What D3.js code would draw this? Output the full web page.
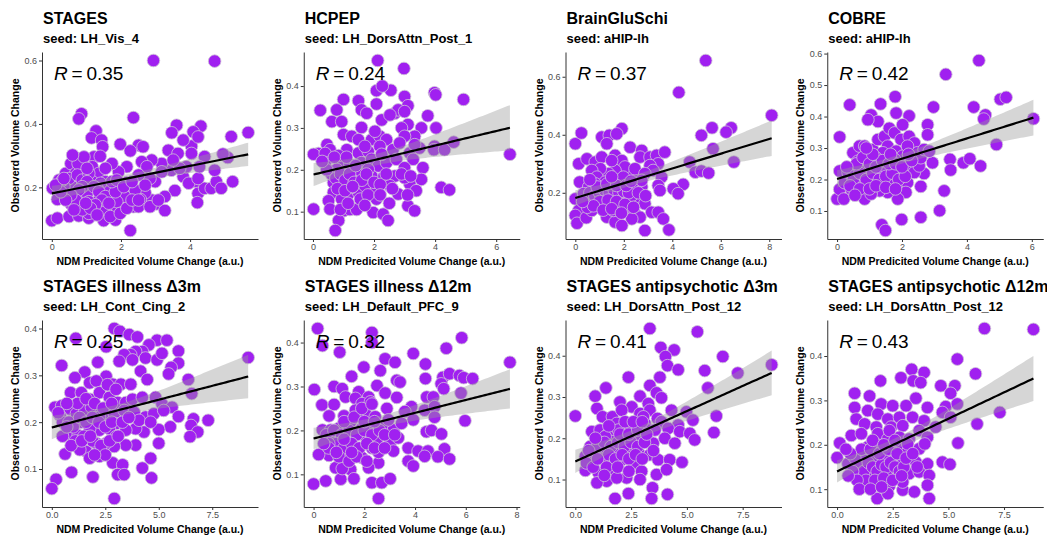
<!DOCTYPE html>
<html>
<head>
<meta charset="utf-8">
<script src="https://cdn.jsdelivr.net/npm/d3@7"></script>
<style>
  body { margin: 0; background: #fff; }
  svg { display: block; }
  text { font-family: "Liberation Sans", Arial, Helvetica, sans-serif; }
</style>
</head>
<body>
<script>
// titels, seeds en R waarden per paneel
const titles = ["STAGES", "HCPEP", "BrainGluSchi", "COBRE",
  "STAGES illness Δ3m", "STAGES illness Δ12m", "STAGES antipsychotic Δ3m", "STAGES antipsychotic Δ12m"];
const seeds = ["LH_Vis_4", "LH_DorsAttn_Post_1", "aHIP-lh", "aHIP-lh",
  "LH_Cont_Cing_2", "LH_Default_PFC_9", "LH_DorsAttn_Post_12", "LH_DorsAttn_Post_12"];
const rValues = ["0.35", "0.24", "0.37", "0.42", "0.25", "0.32", "0.41", "0.43"];

const xTicks = [[0, 2, 4], [0, 2, 4, 6], [0, 2, 4, 6, 8], [0, 2, 4, 6],
  [0, 2.5, 5, 7.5], [0, 2, 4, 6, 8], [0, 2.5, 5, 7.5], [0, 2.5, 5, 7.5]];
const yTicks = [[0.2, 0.4, 0.6], [0.1, 0.2, 0.3, 0.4], [0.2, 0.4, 0.6], [0.1, 0.2, 0.3, 0.4, 0.5, 0.6],
  [0.1, 0.2, 0.3, 0.4], [0.1, 0.2, 0.3, 0.4], [0.1, 0.2, 0.3, 0.4], [0.1, 0.2, 0.3, 0.4]];

// punten: [voorspeld, geobserveerd]
const stagesPts = [[2.94,.600],[4.71,.598],[0.86,.432],[0.78,.416],[2.36,.420],[3.61,.396],[4.31,.393],[4.09,.375],[3.47,.372],[5.19,.360],[5.68,.373],[1.28,.378],[1.15,.356],[1.44,.349],[1.47,.328],[1.98,.336],[2.51,.333],[2.64,.328],[2.27,.315],[3.37,.317],[3.65,.307],[4.04,.330],[3.80,.349],[4.23,.359],[4.42,.297],[5.09,.294],[4.95,.305],[0.21,.223],[0.02,.197],[0.16,.162],[0.55,.148],[0.00,.095],[0.16,.103],[0.50,.108],[0.78,.110],[1.07,.103],[1.50,.095],[1.84,.097],[2.27,.064],[2.36,.139],[3.03,.148],[3.27,.127],[2.89,.160],[2.70,.183],[2.56,.162],[3.56,.190],[3.80,.234],[4.18,.218],[3.96,.213],[4.23,.181],[4.21,.152],[4.42,.197],[4.61,.197],[4.76,.218],[4.90,.197],[5.23,.218],[4.23,.228],[4.71,.254],[4.27,.265],[3.89,.265],[3.46,.254],[3.18,.275],[2.89,.286],[2.60,.281],[2.75,.265],[2.99,.218],[2.84,.228],[2.51,.239],[2.17,.265],[2.17,.215],[1.93,.249],[1.74,.275],[1.79,.202],[1.93,.183],[1.65,.165],[1.45,.150],[1.74,.134],[1.26,.129],[1.07,.118],[1.31,.155],[0.83,.160],[0.88,.181],[0.69,.186],[0.55,.207],[0.40,.244],[0.55,.275],[0.78,.291],[0.93,.265],[1.22,.296],[1.40,.298],[1.17,.265],[1.36,.244],[1.17,.218],[1.02,.202],[1.55,.218],[1.60,.192],[0.69,.244],[0.50,.228],[0.35,.202],[0.31,.223],[1.02,.181],[2.12,.171],[2.41,.192],[1.88,.155],[1.55,.129],[2.51,.139],[3.27,.171],[3.70,.260],[3.18,.249],[3.51,.286],[4.04,.307],[0.76,.275],[0.93,.296],[0.60,.302],[1.41,.213],[1.31,.197],[1.07,.155],[0.88,.129],
  [0.74,.239],[0.88,.223],[1.07,.244],[1.02,.218],[0.88,.202],[0.78,.192],[1.22,.202],[1.36,.186],[1.55,.171],[1.45,.160],[1.26,.145],[1.12,.134],[1.65,.150],[1.84,.186],[1.74,.218],[1.88,.223],[0.69,.160],[0.55,.176],[0.40,.160],[0.98,.150],[0.64,.129],[1.31,.113],[1.69,.108],[1.98,.118],[2.17,.134],[2.32,.160],[2.08,.202],[2.32,.218],[2.70,.207],[2.51,.160],[2.84,.139],[3.08,.160],[0.26,.186],[0.11,.207],[0.35,.228],[1.02,.260],[1.55,.260]];
const hcpepPts = [[2.12,.461],[2.98,.442],[2.55,.390],[2.08,.389],[2.27,.400],[3.98,.384],[4.02,.379],[4.93,.368],[3.00,.375],[1.00,.368],[1.49,.365],[2.08,.357],[0.24,.342],[0.78,.343],[1.59,.343],[1.76,.335],[2.68,.335],[3.11,.353],[2.79,.343],[3.00,.339],[0.62,.315],[0.94,.315],[1.59,.301],[2.25,.319],[2.52,.331],[3.11,.308],[3.76,.329],[4.03,.300],[3.55,.300],[2.90,.300],[3.33,.280],[3.00,.280],[1.00,.284],[1.27,.280],[1.49,.272],[1.92,.272],[2.19,.280],[2.41,.272],[2.03,.292],[0.46,.260],[0.56,.248],[0.18,.239],[0.02,.237],[0.40,.239],[1.11,.248],[1.49,.240],[1.81,.244],[2.19,.256],[2.62,.248],[2.84,.264],[3.17,.240],[3.28,.225],[3.49,.252],[3.98,.256],[3.96,.248],[4.31,.248],[4.61,.266],[6.45,.237],[0.40,.217],[0.94,.217],[0.78,.201],[1.21,.213],[1.59,.217],[1.92,.225],[2.14,.209],[2.41,.217],[2.73,.225],[3.00,.205],[3.60,.205],[3.55,.177],[3.17,.166],[3.00,.181],[2.68,.185],[2.30,.181],[1.92,.185],[1.49,.189],[1.27,.177],[0.67,.169],[0.94,.166],[0.67,.146],[1.16,.142],[1.49,.146],[1.70,.162],[2.08,.154],[2.08,.130],[2.52,.162],[2.79,.142],[3.38,.150],[4.20,.158],[4.47,.152],[0.51,.126],[0.56,.106],[0.02,.106],[1.00,.102],[1.21,.105],[1.43,.105],[1.97,.098],[2.30,.094],[2.46,.079],[3.11,.114],[3.33,.102],[0.84,.079],[0.73,.055],[0.94,.130],[1.27,.158],[1.81,.201],[2.25,.237],[3.33,.260],[0.84,.234],[1.70,.256],
  [0.60,.190],[0.75,.180],[0.90,.190],[1.05,.175],[1.20,.190],[1.35,.170],[1.60,.175],[1.75,.190],[2.00,.170],[2.20,.165],[2.40,.190],[0.80,.155],[1.05,.150],[1.30,.160],[1.55,.130],[1.80,.140],[2.20,.140],[2.60,.155],[0.45,.200],[0.30,.220],[0.70,.230],[1.10,.230],[1.40,.210],[2.90,.190],[3.20,.185],[1.70,.115],[0.90,.105],[1.15,.120],[2.50,.120],[3.10,.140]];
const gluPts = [[5.38,.656],[4.27,.546],[8.10,.467],[5.64,.424],[6.43,.424],[6.22,.409],[5.20,.398],[5.68,.352],[6.54,.306],[4.72,.306],[4.95,.271],[5.20,.275],[5.50,.268],[4.45,.229],[4.04,.214],[4.24,.197],[0.00,.369],[0.25,.406],[0.14,.300],[0.18,.237],[0.00,.179],[0.14,.139],[0.00,.122],[0.07,.095],[0.45,.114],[0.48,.162],[0.68,.185],[0.48,.317],[0.82,.306],[1.09,.392],[1.40,.398],[1.92,.421],[1.71,.403],[1.30,.369],[1.09,.323],[1.64,.329],[1.92,.311],[2.26,.357],[2.74,.346],[2.67,.323],[3.08,.323],[3.35,.329],[3.69,.340],[3.42,.300],[3.08,.294],[3.21,.277],[3.56,.254],[3.42,.225],[3.49,.208],[2.74,.220],[2.39,.266],[2.33,.225],[2.05,.289],[1.64,.277],[1.37,.266],[1.03,.283],[0.68,.277],[0.89,.254],[1.23,.237],[1.44,.220],[1.78,.237],[2.05,.220],[1.09,.214],[0.82,.208],[0.55,.220],[0.34,.197],[0.89,.174],[1.23,.185],[1.57,.191],[1.92,.185],[2.19,.174],[2.53,.185],[1.09,.156],[1.44,.162],[1.78,.151],[2.12,.139],[2.46,.128],[2.87,.162],[3.15,.133],[3.42,.133],[3.63,.110],[2.67,.116],[2.33,.110],[1.30,.116],[1.64,.099],[1.92,.087],[2.87,.070],[3.86,.072],[1.57,.139],[0.68,.139],[0.82,.231],[1.57,.248],[1.98,.254],[2.46,.283],[2.87,.266],[2.74,.243],[1.50,.311],[1.23,.191],[1.85,.168],[2.33,.191],
  [0.60,.200],[0.80,.190],[1.00,.200],[1.20,.210],[1.40,.200],[1.60,.210],[1.80,.200],[2.00,.205],[2.20,.200],[0.90,.220],[1.30,.230],[1.70,.225],[2.10,.225],[1.00,.170],[1.35,.175],[1.70,.170],[2.05,.160],[2.40,.150],[0.50,.150],[0.75,.155],[1.15,.140],[1.50,.145],[1.90,.130],[2.60,.200],[2.90,.190],[0.30,.170],[0.60,.245],[1.50,.255],[2.30,.240]];
const cobrePts = [[4.37,.578],[3.35,.534],[0.39,.437],[1.34,.440],[1.79,.463],[2.97,.430],[4.21,.430],[5.03,.455],[5.21,.461],[4.57,.405],[4.52,.392],[6.05,.393],[2.22,.402],[1.82,.411],[1.05,.405],[1.26,.384],[0.95,.390],[0.08,.335],[2.79,.374],[2.79,.342],[4.91,.311],[3.48,.264],[3.89,.253],[4.09,.266],[4.42,.243],[3.50,.230],[3.30,.164],[2.94,.253],[2.68,.219],[2.58,.178],[3.16,.101],[2.58,.080],[1.99,.073],[1.38,.056],[1.49,.038],[0.00,.138],[0.08,.169],[0.08,.227],[0.23,.190],[0.21,.138],[0.44,.169],[0.49,.285],[0.69,.306],[0.64,.258],[0.69,.232],[0.64,.195],[0.74,.159],[0.85,.138],[0.95,.180],[1.00,.211],[0.90,.237],[0.95,.279],[1.10,.295],[1.26,.327],[1.46,.337],[1.61,.363],[1.77,.348],[1.97,.327],[2.22,.337],[2.38,.316],[2.02,.374],[1.56,.306],[1.82,.290],[1.41,.285],[1.20,.269],[1.56,.264],[2.02,.274],[2.33,.274],[2.48,.285],[2.38,.243],[2.17,.243],[1.92,.222],[1.56,.232],[1.31,.222],[1.15,.201],[1.41,.190],[1.66,.195],[1.97,.185],[2.17,.190],[2.12,.159],[1.87,.138],[1.56,.159],[1.31,.164],[1.05,.154],[2.38,.222],[2.53,.243],[2.58,.269],[2.68,.295],[2.84,.290],[0.34,.222],[0.49,.211],[1.26,.248],[1.77,.264],[1.46,.243],[1.05,.264],[0.85,.306],[2.17,.306],
  [0.50,.200],[0.70,.220],[0.90,.200],[1.10,.220],[1.30,.200],[1.50,.210],[1.70,.220],[1.90,.200],[2.10,.210],[0.60,.250],[0.80,.270],[1.00,.250],[1.20,.240],[1.40,.260],[1.60,.250],[1.80,.250],[2.00,.240],[2.30,.260],[0.40,.180],[0.70,.170],[1.00,.170],[1.20,.180],[1.50,.175],[1.80,.170],[0.30,.240],[0.55,.150],[1.10,.280],[1.65,.280],[0.90,.300],[2.20,.280]];
const ill3Pts = [[2.92,.400],[3.18,.394],[3.62,.387],[4.00,.382],[4.92,.375],[5.38,.375],[1.12,.379],[2.54,.361],[5.92,.352],[4.54,.365],[4.23,.351],[3.92,.351],[3.69,.344],[3.38,.344],[3.15,.330],[3.77,.333],[4.38,.337],[4.92,.333],[5.15,.347],[5.92,.326],[5.58,.317],[5.46,.303],[9.18,.338],[0.46,.321],[2.15,.328],[1.54,.307],[2.54,.298],[1.08,.295],[1.77,.284],[2.08,.288],[2.85,.281],[3.23,.281],[3.69,.281],[4.15,.309],[4.46,.291],[6.38,.291],[6.54,.261],[0.88,.263],[1.38,.263],[1.77,.249],[2.23,.263],[2.69,.253],[3.08,.242],[3.46,.242],[3.77,.249],[4.23,.253],[4.85,.253],[5.15,.239],[5.62,.232],[0.15,.232],[0.46,.235],[0.85,.228],[0.38,.214],[1.15,.218],[1.54,.225],[1.85,.232],[2.31,.221],[2.54,.211],[2.92,.218],[3.38,.225],[3.85,.221],[4.38,.211],[4.77,.218],[5.23,.225],[5.92,.212],[6.62,.207],[7.31,.204],[6.51,.193],[6.82,.179],[6.46,.169],[5.54,.190],[5.00,.184],[4.31,.179],[3.92,.186],[3.46,.183],[3.00,.197],[2.69,.186],[2.23,.183],[1.77,.186],[1.38,.200],[0.85,.172],[1.23,.172],[5.00,.155],[3.92,.151],[3.46,.151],[2.92,.148],[2.54,.155],[2.08,.155],[1.62,.137],[1.31,.141],[1.77,.123],[2.23,.127],[2.85,.113],[3.31,.109],[4.62,.123],[4.23,.102],[0.62,.132],[0.92,.093],[1.92,.083],[3.08,.088],[3.38,.088],[4.66,.081],[0.20,.078],[0.00,.058],[2.92,.037],[2.23,.211],[3.00,.169],[4.08,.204],[4.62,.200],
  [0.50,.200],[0.80,.200],[1.00,.190],[1.30,.210],[1.60,.200],[1.90,.210],[2.20,.200],[2.50,.190],[2.80,.200],[1.10,.160],[1.50,.170],[1.90,.160],[2.30,.150],[2.70,.160],[3.10,.170],[2.50,.130],[2.00,.130],[1.20,.240],[1.60,.250],[2.00,.240],[2.40,.230],[2.80,.240],[3.30,.200],[3.60,.210],[0.70,.240],[0.30,.220],[2.60,.280],[3.00,.270],
  [0.50,.170],[0.90,.150],[1.40,.160],[1.80,.170],[0.70,.190]];
const ill12Pts = [[0.16,.432],[0.35,.393],[1.03,.378],[2.30,.423],[2.30,.400],[2.82,.363],[3.21,.355],[3.93,.375],[4.41,.351],[5.23,.387],[5.84,.411],[7.74,.355],[1.98,.344],[2.63,.336],[1.50,.323],[3.28,.314],[3.41,.310],[4.41,.318],[5.10,.321],[5.36,.329],[5.75,.325],[5.92,.320],[6.27,.318],[5.03,.306],[5.13,.295],[0.03,.293],[0.81,.300],[1.13,.295],[1.26,.276],[1.78,.288],[2.17,.276],[2.50,.302],[2.82,.285],[3.28,.275],[4.46,.276],[4.72,.276],[5.81,.285],[0.33,.258],[0.81,.259],[1.65,.273],[1.91,.261],[2.24,.265],[2.89,.250],[3.86,.254],[4.38,.246],[4.77,.254],[0.61,.233],[1.20,.233],[1.65,.246],[2.04,.239],[2.43,.231],[3.60,.243],[3.93,.224],[4.77,.230],[5.97,.222],[0.35,.201],[0.68,.201],[1.00,.205],[1.46,.201],[1.91,.205],[2.30,.209],[2.69,.209],[3.15,.201],[3.47,.216],[4.45,.197],[4.65,.200],[5.04,.192],[0.81,.183],[1.20,.179],[1.52,.186],[2.04,.186],[2.50,.179],[3.02,.171],[3.34,.183],[3.73,.160],[1.39,.164],[1.00,.168],[1.78,.156],[2.30,.160],[3.15,.153],[4.12,.153],[4.51,.153],[5.16,.158],[0.61,.143],[0.20,.145],[1.07,.141],[1.91,.138],[2.56,.126],[3.73,.130],[4.38,.141],[4.90,.140],[5.36,.135],[3.93,.119],[0.87,.115],[1.46,.111],[1.07,.089],[0.48,.085],[1.59,.090],[0.00,.078],[2.30,.081],[2.69,.081],[3.02,.090],[2.56,.045],[1.13,.113],[2.17,.115],[2.56,.150],[2.95,.224],[1.46,.220],
  [0.50,.190],[0.80,.200],[1.10,.190],[1.40,.200],[1.70,.190],[2.00,.200],[2.30,.190],[2.60,.200],[0.90,.170],[1.20,.160],[1.50,.170],[1.80,.160],[2.10,.170],[2.40,.160],[2.80,.160],[1.00,.140],[1.40,.130],[1.70,.140],[2.10,.130],[1.20,.220],[1.60,.230],[2.00,.220],[2.40,.220],[2.80,.190],[3.20,.190],[0.60,.170],[1.90,.250],[2.30,.260],
  [0.60,.160],[0.90,.150],[1.20,.180],[0.40,.170],[1.50,.150]];
const anti3Pts = [[3.34,.466],[5.47,.458],[3.83,.420],[4.43,.414],[4.04,.398],[6.61,.398],[4.13,.376],[4.61,.366],[8.80,.378],[7.28,.358],[5.80,.364],[2.38,.348],[3.79,.348],[1.37,.322],[3.34,.328],[5.94,.322],[3.64,.310],[3.86,.298],[0.89,.302],[2.90,.302],[2.00,.288],[3.27,.284],[2.53,.276],[0.97,.272],[0.00,.254],[1.22,.252],[1.66,.252],[2.08,.268],[2.90,.260],[3.34,.268],[3.68,.248],[4.31,.268],[4.98,.264],[5.27,.244],[6.32,.254],[6.21,.214],[1.86,.236],[2.41,.232],[3.12,.236],[3.86,.240],[4.61,.232],[0.74,.216],[1.11,.220],[1.49,.212],[1.93,.220],[2.67,.212],[3.27,.220],[4.16,.224],[4.68,.216],[5.13,.212],[5.35,.196],[0.67,.180],[0.45,.156],[1.11,.188],[1.63,.192],[2.23,.196],[2.90,.192],[3.49,.188],[4.01,.200],[4.46,.188],[1.19,.164],[1.78,.168],[2.38,.172],[2.82,.166],[3.34,.160],[3.71,.148],[4.23,.148],[4.78,.142],[0.82,.144],[0.45,.122],[1.04,.116],[1.41,.096],[0.97,.092],[1.71,.124],[2.08,.148],[2.67,.140],[2.97,.120],[2.90,.100],[2.30,.104],[1.86,.104],[3.64,.112],[4.09,.124],[3.46,.080],[4.13,.064],[2.38,.066],[1.78,.054],[3.42,.054],[2.23,.240],[3.05,.252],[3.57,.220],[1.34,.204],[2.67,.180],
  [1.00,.180],[1.30,.190],[1.60,.180],[1.90,.190],[2.20,.180],[2.50,.190],[2.80,.180],[3.10,.190],[1.20,.150],[1.50,.160],[1.80,.150],[2.10,.160],[2.40,.150],[2.70,.160],[3.00,.150],[1.40,.130],[1.90,.130],[2.40,.120],[2.00,.210],[2.40,.210],[2.80,.220],[3.20,.210],[1.50,.230],[0.90,.200],[0.60,.170],[3.50,.170],[2.60,.240],[3.00,.240],
  [0.50,.140],[0.80,.130],[1.00,.150],[1.30,.110]];
const anti12Pts = [[6.62,.462],[8.82,.460],[5.40,.393],[3.35,.370],[3.91,.363],[6.22,.360],[1.95,.344],[2.87,.351],[3.42,.344],[3.76,.340],[5.29,.333],[4.66,.333],[0.79,.316],[1.46,.310],[3.54,.305],[5.10,.316],[0.79,.284],[1.98,.292],[2.50,.288],[3.10,.288],[4.06,.284],[4.88,.286],[5.40,.292],[7.31,.273],[6.29,.247],[1.38,.277],[1.83,.269],[2.28,.258],[2.80,.262],[3.39,.262],[3.91,.254],[4.73,.273],[5.10,.262],[0.86,.258],[1.24,.247],[1.76,.240],[2.43,.240],[2.95,.243],[3.69,.232],[4.43,.240],[0.64,.221],[1.09,.225],[1.83,.225],[2.28,.213],[2.80,.217],[3.24,.213],[4.06,.217],[0.12,.204],[0.97,.179],[1.38,.195],[1.83,.199],[2.28,.187],[2.72,.195],[3.17,.184],[3.69,.191],[3.94,.202],[5.43,.204],[0.00,.171],[0.49,.157],[1.24,.165],[1.61,.169],[2.13,.172],[2.57,.165],[2.95,.157],[3.54,.161],[4.06,.157],[4.73,.161],[5.07,.156],[0.94,.135],[1.46,.143],[1.90,.146],[2.35,.139],[2.72,.143],[3.24,.135],[3.69,.139],[4.14,.131],[1.09,.116],[1.53,.113],[1.98,.116],[2.35,.107],[2.95,.098],[3.47,.094],[4.06,.109],[1.80,.079],[4.14,.079],[2.28,.090],[2.95,.116],[3.17,.202],[2.35,.232],
  [0.80,.170],[1.00,.150],[1.20,.140],[1.40,.160],[1.60,.150],[1.80,.140],[2.00,.155],[2.20,.150],[2.40,.160],[2.60,.150],[2.80,.140],[3.00,.150],[1.10,.190],[1.50,.190],[1.90,.180],[2.30,.190],[2.70,.180],[3.10,.170],[3.40,.180],[1.30,.120],[1.70,.120],[2.10,.125],[2.50,.120],[2.90,.130],[0.60,.180],[0.40,.190],[3.60,.150],[1.60,.210],[2.10,.200],[2.60,.210],
  [0.70,.140],[0.90,.120],[1.00,.100],[0.50,.130],[1.50,.100],[2.00,.105]];

const pointSets = [stagesPts, hcpepPts, gluPts, cobrePts, ill3Pts, ill12Pts, anti3Pts, anti12Pts];

const W = 1047, H = 539;
const colW = W / 4, rowH = 268;

const svg = d3.select('body').append('svg')
  .attr('width', W)
  .attr('height', H);

// lineaire regressie met 95% betrouwbaarheidsband (zoals geom_smooth method = "lm")
function fitLm(pts) {
  const n = pts.length;
  const mx = d3.mean(pts, d => d[0]), my = d3.mean(pts, d => d[1]);
  const sxx = d3.sum(pts, d => (d[0] - mx) ** 2);
  const sxy = d3.sum(pts, d => (d[0] - mx) * (d[1] - my));
  const b = sxy / sxx, a = my - b * mx;
  const sse = d3.sum(pts, d => (d[1] - a - b * d[0]) ** 2);
  const s = Math.sqrt(sse / (n - 2));
  const t = 1.96 + 2.4 / (n - 2);
  const [x0, x1] = d3.extent(pts, d => d[0]);
  const grid = d3.range(80).map(i => x0 + (x1 - x0) * i / 79);
  return grid.map(x => {
    const yhat = a + b * x;
    const se = s * Math.sqrt(1 / n + (x - mx) ** 2 / sxx);
    return { x, y: yhat, lo: yhat - t * se, hi: yhat + t * se };
  });
}

pointSets.forEach((pts, i) => {
  const col = i % 4, row = Math.floor(i / 4);
  const ox = col * colW, oy = row * rowH;
  const left = ox + 42, right = ox + 258, top = oy + 52, bottom = oy + 239;

  // ggplot-achtige 5% uitbreiding
  const xe = d3.extent(pts, d => d[0]), ye = d3.extent(pts, d => d[1]);
  const xp = (xe[1] - xe[0]) * 0.05, yp = (ye[1] - ye[0]) * 0.05;
  const x = d3.scaleLinear().domain([xe[0] - xp, xe[1] + xp]).range([left, right]);
  const y = d3.scaleLinear().domain([ye[0] - yp, ye[1] + yp]).range([bottom, top]);

  const g = svg.append('g');

  g.append('clipPath').attr('id', 'clip' + i)
    .append('rect')
    .attr('x', left).attr('y', top)
    .attr('width', right - left).attr('height', bottom - top);

  const plot = g.append('g').attr('clip-path', `url(#clip${i})`);

  plot.selectAll('circle').data(pts).join('circle')
    .attr('cx', d => x(d[0]))
    .attr('cy', d => y(d[1]))
    .attr('r', 6.3)
    .attr('fill', '#a020f0')
    .attr('stroke', '#cfc6d6')
    .attr('stroke-width', 0.8);

  const fit = fitLm(pts);
  plot.append('path').datum(fit)
    .attr('d', d3.area().x(d => x(d.x)).y0(d => y(d.lo)).y1(d => y(d.hi)))
    .attr('fill', '#999999')
    .attr('fill-opacity', 0.4);
  plot.append('path').datum(fit)
    .attr('d', d3.line().x(d => x(d.x)).y(d => y(d.y)))
    .attr('fill', 'none')
    .attr('stroke', '#000')
    .attr('stroke-width', 2.2);

  // assen
  const isHalf = xTicks[i].some(v => v % 1 !== 0);
  const xAxis = d3.axisBottom(x).tickValues(xTicks[i])
    .tickFormat(d3.format(isHalf ? '.1f' : 'd'))
    .tickSizeInner(3).tickSizeOuter(0).tickPadding(2);
  const yAxis = d3.axisLeft(y).tickValues(yTicks[i])
    .tickFormat(d3.format('.1f'))
    .tickSizeInner(3).tickSizeOuter(0).tickPadding(2);

  const gx = g.append('g').attr('transform', `translate(0,${bottom})`).call(xAxis);
  const gy = g.append('g').attr('transform', `translate(${left},0)`).call(yAxis);
  [gx, gy].forEach(ax => {
    ax.select('.domain').attr('stroke', '#333').attr('stroke-width', 1);
    ax.selectAll('.tick line').attr('stroke', '#333');
    ax.selectAll('.tick text').attr('fill', '#4d4d4d').style('font-size', '9px');
  });

  // astitels
  g.append('text')
    .attr('x', (left + right) / 2).attr('y', bottom + 26)
    .attr('text-anchor', 'middle')
    .style('font-size', '10.5px').style('font-weight', 'bold')
    .text('NDM Predicited Volume Change (a.u.)');
  g.append('text')
    .attr('transform', `translate(${ox + 19},${(top + bottom) / 2}) rotate(-90)`)
    .attr('text-anchor', 'middle')
    .style('font-size', '10.5px').style('font-weight', 'bold')
    .text('Observerd Volume Change');

  // titel en ondertitel
  g.append('text')
    .attr('x', left + 1).attr('y', oy + 24)
    .style('font-size', '16px').style('font-weight', 'bold')
    .text(titles[i]);
  g.append('text')
    .attr('x', left + 1).attr('y', oy + 43)
    .style('font-size', '13px').style('font-weight', 'bold')
    .text('seed: ' + seeds[i]);

  // R label
  const rl = g.append('text')
    .attr('x', left + 12).attr('y', top + 28)
    .style('font-size', '19px');
  rl.append('tspan').style('font-style', 'italic').text('R');
  rl.append('tspan').text('\u2009=\u2009' + rValues[i]);
});
</script>
</body>
</html>
